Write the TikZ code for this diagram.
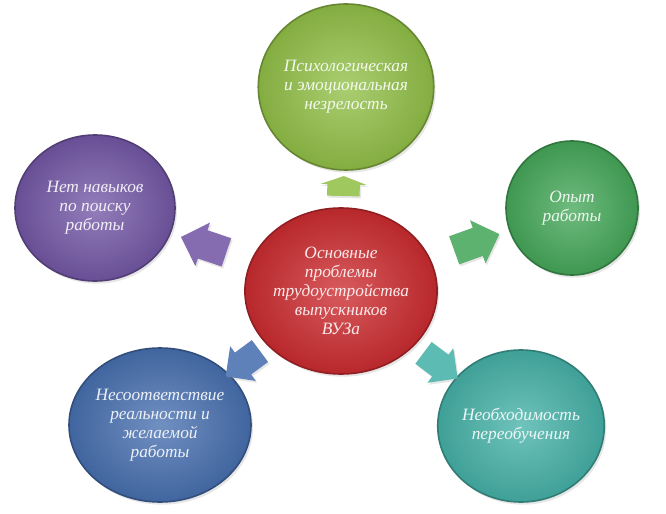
\documentclass[tikz,border=0pt]{standalone}
\usepackage{fontspec}
\setmainfont{Liberation Serif}
\usetikzlibrary{shapes.geometric,shapes.arrows,shadows}

\definecolor{probred}{RGB}{204,44,48}
\definecolor{probgreen}{RGB}{146,192,72}
\definecolor{probviolet}{RGB}{116,88,166}
\definecolor{probemerald}{RGB}{70,168,90}
\definecolor{probblue}{RGB}{72,112,176}
\definecolor{probteal}{RGB}{70,178,168}

\begin{document}
\begin{tikzpicture}[x=0.75pt, y=-0.75pt,
    bubble/.style = {ellipse, draw=#1!70!black, line width=1.2pt, inner sep=0pt, align=center,
      font=\itshape\fontsize{13}{14.3}\selectfont, text=white!90!#1,
      shading=radial, inner color=#1!78!white, outer color=#1!90!black,
      drop shadow={opacity=0.2, shadow xshift=1.5pt, shadow yshift=-2pt}},
    pointer/.style = {single arrow, draw=none, fill=#1!88!white, inner xsep=0pt, inner ysep=11pt,
      minimum height=36pt, single arrow head extend=6pt, sloped, allow upside down,
      drop shadow={opacity=0.2, shadow xshift=1pt, shadow yshift=-1.5pt}}]
  \useasboundingbox (0,0) rectangle (666,513);

  \node[bubble=probred, minimum width=144pt, minimum height=124.5pt] (core) at (341,291)
    {Основные\\проблемы\\трудоустройства\\выпускников\\ВУЗа};
  \node[bubble=probgreen, minimum width=129.75pt, minimum height=124.5pt] (psych) at (346,87)
    {Психологическая\\и эмоциональная\\незрелость};
  \node[bubble=probviolet, minimum width=120pt, minimum height=109.5pt] (skill) at (95,208)
    {Нет навыков\\по поиску\\работы};
  \node[bubble=probemerald, minimum width=99pt, minimum height=100.5pt] (exper) at (572,208)
    {Опыт\\работы};
  \node[bubble=probblue, minimum width=132pt, minimum height=115.5pt] (wish) at (160,425)
    {Несоответствие\\реальности и\\желаемой\\работы};
  \node[bubble=probteal, minimum width=117pt, minimum height=114pt] (retrain) at (521,426)
    {Необходимость\\переобучения};

  \path (core) -- node[pointer=probgreen, minimum height=15pt, inner ysep=12pt,
    single arrow head extend=5pt, single arrow tip angle=140] (p_psych) {} (psych);
  \path (core) -- node[pointer=probviolet] (p_skill) {} (skill);
  \path (core) -- node[pointer=probemerald] (p_exper) {} (exper);
  \path (core) -- node[pointer=probblue, minimum height=32pt, inner ysep=10pt] (p_wish) {} (wish);
  \path (core) -- node[pointer=probteal, minimum height=32pt, inner ysep=10pt] (p_retrain) {} (retrain);
\end{tikzpicture}
\end{document}
